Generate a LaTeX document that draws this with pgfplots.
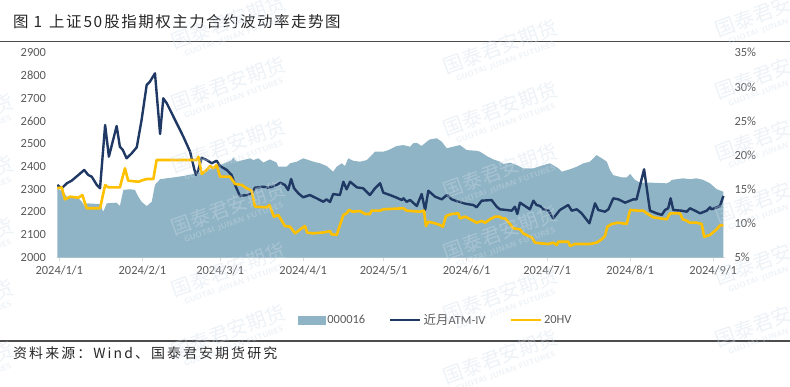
\documentclass[border=0pt]{standalone}
\usepackage{pgfplots}
\pgfplotsset{compat=1.18}
\usepackage{fontspec}
\setmainfont{Carlito}
\newfontfamily\cjk{Noto Sans CJK SC}
\newfontfamily\cjktitle[LetterSpace=10]{Noto Sans CJK SC}
\newfontfamily\cjksrc[LetterSpace=15]{Noto Sans CJK SC}
\definecolor{areacol}{HTML}{8FB4C5}
\definecolor{navyc}{HTML}{1F3864}
\definecolor{goldc}{HTML}{FFC000}
\definecolor{txtg}{HTML}{595959}
\definecolor{axisg}{HTML}{D9D9D9}
\definecolor{wmark}{HTML}{D0DCE8}
\pgfplotsset{
  base/.style={
    scale only axis, width=668bp, height=204.8bp,
    at={(57bp,128.5bp)}, anchor=south west,
    xmin=-0.86, xmax=248.4,
    clip=true,
    /pgf/number format/assume math mode=true,
    /pgf/number format/set thousands separator={},
    ticklabel style={font=\fontsize{12.5}{14}\selectfont, text=txtg},
  }
}
\pgfplotstableread{
x y
-0.75 2304
1.5 2289
2.8 2267
7.1 2260
8.4 2245
9.6 2223
10.2 2238
15.2 2235
16.4 2201
17.7 2238
21.4 2241
22.6 2226
23.9 2297
26.4 2300
28.2 2297
29.5 2267
30.7 2245
32.6 2226
34.5 2245
35.7 2319
37.6 2344
46.3 2358
51.3 2370
58.7 2399
64.3 2428
64.9 2440
66.2 2421
71.2 2436
72.4 2428
74.3 2436
76.1 2417
78.6 2431
81.1 2417
81.7 2399
84.8 2399
86.1 2414
88.6 2421
91.0 2436
94.8 2421
97.3 2414
99.8 2402
102.2 2377
103.5 2399
105.4 2414
106.6 2402
107.8 2436
109.7 2425
112.2 2421
114.7 2428
116.0 2443
117.8 2465
120.9 2465
122.8 2472
125.9 2490
128.4 2494
130.9 2487
132.1 2502
133.4 2504
135.2 2490
137.1 2509
138.3 2519
140.8 2524
142.7 2509
144.6 2480
147.0 2487
149.5 2494
152.0 2472
155.7 2469
157.0 2465
159.5 2446
162.0 2431
164.4 2421
165.7 2411
168.2 2417
170.7 2406
173.1 2392
176.9 2392
180.6 2406
183.1 2414
186.2 2392
187.5 2377
190.6 2388
193.1 2399
195.6 2414
198.0 2421
200.5 2450
202.4 2436
204.3 2421
205.5 2384
206.7 2362
209.9 2352
211.7 2352
213.0 2367
214.8 2341
216.7 2329
220.4 2329
226.6 2326
227.9 2333
228.5 2341
232.8 2348
235.3 2344
237.8 2348
240.3 2341
242.8 2326
245.3 2300
247.8 2289
}\indexdata
\pgfplotstableread{
x y
-0.75 15.62
0.9 15.14
2.8 15.87
4.6 16.25
7.1 17.08
9.3 17.82
10.8 17.08
12.1 16.84
14.0 15.62
15.2 15.14
17.1 24.41
18.5 19.77
21.4 24.26
22.6 21.23
23.7 20.75
25.1 19.53
27.0 20.26
28.9 21.14
30.7 25.14
32.6 30.27
33.8 30.75
35.7 31.98
37.6 23.09
38.8 28.32
40.1 27.59
43.2 25.14
46.3 22.69
48.8 20.50
50.9 17.08
51.9 17.82
53.1 19.62
55.0 19.28
56.9 18.80
58.7 19.18
60.0 18.40
62.5 17.82
64.3 17.08
65.6 15.62
67.4 14.01
69.9 14.15
71.8 14.40
73.0 15.22
76.1 15.37
78.0 15.22
79.3 15.37
81.1 15.62
82.4 15.96
84.2 15.62
85.4 14.89
86.5 16.50
87.6 15.14
89.2 14.40
91.0 13.82
93.5 14.15
96.0 13.67
98.5 13.17
99.7 13.52
101.0 13.13
102.2 14.30
104.7 14.15
106.0 16.10
107.2 14.99
108.5 16.10
111.0 15.28
113.4 15.14
115.9 14.15
117.8 15.14
119.7 15.87
120.9 14.49
123.4 14.15
125.9 13.76
127.8 13.42
128.4 13.67
129.6 13.17
130.9 13.42
133.4 12.54
135.2 14.30
136.5 11.96
137.7 14.78
140.2 13.91
142.7 13.52
144.6 14.15
146.4 13.52
148.9 13.17
152.0 12.84
154.5 12.69
155.7 12.35
157.6 13.32
161.3 13.42
163.2 12.44
164.4 12.06
166.9 11.96
168.8 11.86
170.0 12.44
170.9 11.37
171.9 13.03
173.8 12.54
175.6 12.06
176.9 13.32
178.1 12.69
179.4 12.54
180.6 12.06
182.5 11.86
184.3 10.74
186.8 11.96
189.9 12.69
191.2 11.86
193.1 12.06
194.9 11.47
197.8 10.01
199.9 12.94
201.1 11.96
203.6 11.71
204.9 12.06
206.7 13.67
208.6 13.52
211.1 13.03
214.2 13.52
215.4 13.52
218.2 17.92
220.4 11.86
222.9 11.47
224.8 11.23
226.0 11.96
227.2 12.21
228.1 13.67
229.1 11.96
232.2 11.86
234.1 11.71
235.3 12.21
237.2 11.86
239.1 11.47
241.6 11.86
242.8 12.35
243.4 12.06
245.3 12.35
246.5 12.54
247.8 14.01
}\ivdata
\pgfplotstableread{
x y
-0.75 15.14
0.9 15.28
2.1 13.52
4.0 13.91
7.1 13.76
8.6 14.15
10.2 12.21
15.2 12.21
17.1 15.62
18.3 15.28
22.6 15.28
24.5 18.07
25.7 16.25
29.5 16.10
31.3 16.35
32.6 16.50
35.1 16.50
36.3 19.28
51.3 19.28
51.9 19.77
53.1 17.23
55.0 17.82
56.2 18.40
57.5 18.07
58.7 18.55
60.0 16.84
63.7 16.84
65.6 15.77
68.1 15.62
69.9 15.14
71.8 14.78
73.0 12.44
77.4 12.35
78.4 12.69
80.1 10.98
81.7 11.23
84.2 9.61
86.1 9.51
88.0 8.54
89.9 9.13
91.7 9.61
92.5 8.63
94.8 8.54
99.1 8.69
101.0 8.88
101.6 8.40
103.5 8.30
106.0 11.23
107.2 11.47
108.1 11.96
109.5 11.71
112.2 11.81
114.1 11.37
115.9 11.37
116.5 11.86
119.7 11.86
120.9 12.06
128.4 12.21
129.6 11.86
134.6 11.71
136.1 11.86
136.8 9.61
137.7 10.24
140.2 10.01
142.0 9.76
143.1 9.51
144.3 11.08
146.4 11.37
148.9 11.47
149.5 10.74
151.4 10.98
153.9 10.49
155.7 10.10
157.6 10.35
158.9 10.10
160.7 10.60
162.6 10.98
164.4 10.98
165.1 10.74
166.3 10.74
168.2 9.91
169.4 9.28
171.9 9.13
173.1 8.54
175.0 8.15
176.3 7.96
177.5 7.17
179.4 7.08
182.5 6.98
184.3 7.17
185.6 6.83
186.2 7.31
189.9 7.31
190.6 6.68
192.4 6.98
198.0 6.98
200.5 7.17
202.4 7.67
203.6 8.15
204.5 9.51
206.1 9.91
208.6 10.10
211.7 9.91
213.0 11.96
216.0 11.86
217.9 11.86
219.2 11.47
221.6 10.89
224.1 10.74
226.6 10.60
227.9 11.47
231.6 11.47
232.6 10.60
234.1 10.39
235.3 10.10
237.8 10.10
239.7 9.91
240.6 8.05
242.8 8.30
245.3 9.13
246.5 9.69
247.8 9.76
}\hvdata
\begin{document}
\begin{tikzpicture}[x=1bp,y=1bp]
\path[use as bounding box] (0,0) rectangle (790,386);
\node[anchor=west, inner sep=0, text=black!85] at (13,364) {\fontsize{15.5}{18}\cjktitle 图 1\hspace{7bp}上证\hspace{2bp}50\hspace{2bp}股指期权主力合约波动率走势图};
\draw[line width=1.3bp, color=black!70] (0,344.5) -- (790,344.5);
\draw[line width=1.3bp, color=black!70] (0,45) -- (790,45);
\node[anchor=west, inner sep=0, text=black!85] at (13,33) {\fontsize{14}{16}\cjksrc 资料来源：Wind、国泰君安期货研究};
\begin{axis}[base,
  ymin=2000, ymax=2900, ytick={2000,2100,...,2900},
  axis x line*=bottom, axis y line*=left,
  y axis line style={draw=none},
  x axis line style={draw=axisg, line width=0.8bp, -},
  xtick={0,31,60,91,121,152,182,213,244},
  xticklabels={2024/1/1,2024/2/1,2024/3/1,2024/4/1,2024/5/1,2024/6/1,2024/7/1,2024/8/1,2024/9/1},
  xtick style={draw=axisg, line width=0.8bp},
  ytick style={draw=none},
  tick align=outside, major tick length=3.5bp,
  yticklabel style={xshift=-4bp},
  xticklabel style={yshift=-1bp},
]
\addplot[fill=areacol, draw=none] table {\indexdata} \closedcycle;
\end{axis}
\begin{axis}[base,
  ymin=5, ymax=35, ytick={5,10,...,35},
  axis y line*=right, axis x line=none,
  y axis line style={draw=none},
  ytick style={draw=none},
  yticklabel={\pgfmathprintnumber{\tick}\%},
  yticklabel style={xshift=6bp},
  legend style={at={(0.356,-0.305)}, anchor=west, draw=none, fill=none,
    font=\fontsize{12.5}{14}\selectfont, text=txtg, legend columns=3,
    /tikz/every even column/.append style={column sep=22bp},
    legend cell align=left},
]
\addlegendimage{legend image code/.code={\fill[areacol] (0bp,-4bp) rectangle (27bp,4bp);}}
\addlegendentry{000016}
\addplot[navyc, line width=2.4bp, line join=round, legend image code/.code={\draw[navyc, line width=2.4bp] (0bp,0bp) -- (30bp,0bp);}] table {\ivdata};
\addlegendentry{{\cjk 近月}ATM-IV}
\addplot[goldc, line width=2.6bp, line join=round, legend image code/.code={\draw[goldc, line width=2.6bp] (0bp,0bp) -- (30bp,0bp);}] table {\hvdata};
\addlegendentry{20HV}
\end{axis}
% faint watermark tiles (image y measured from the top: tikz y = 386 - y)
\begin{scope}[opacity=0.38]
\foreach \px/\py in {-42/125, -42/187, -42/249, -42/311, -42/373,
                     230/26, 230/88, 230/150, 230/212, 230/274, 230/336,
                     502/51, 502/113, 502/175, 502/237, 502/299, 502/361,
                     774/14, 774/76, 774/138, 774/200, 774/262, 774/324}{
  \node[rotate=20, text=wmark, align=center, inner sep=0] at (\px,386-\py)
    {\fontsize{20}{20}\cjk 国泰君安期货\\[-1bp]\fontsize{8}{8}\sffamily\bfseries GUOTAI JUNAN FUTURES};
}
\end{scope}
\end{tikzpicture}
\end{document}
